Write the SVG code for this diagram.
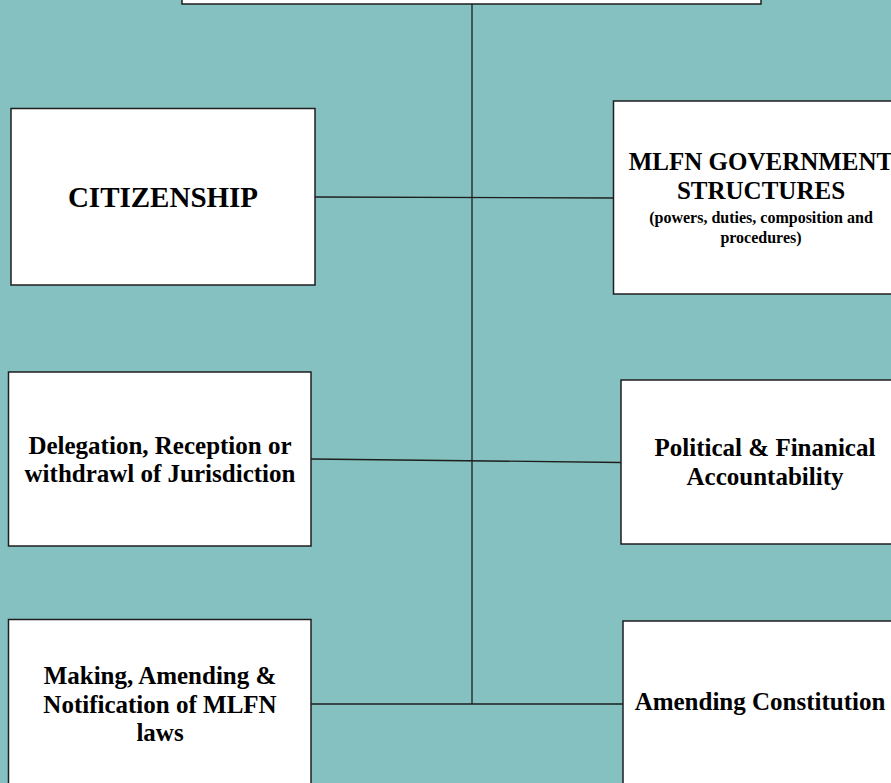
<svg xmlns="http://www.w3.org/2000/svg" width="891" height="783" viewBox="0 0 891 783">
  <style>
    .box { fill: #ffffff; stroke: #1e1e1e; stroke-width: 1.5; }
    .wire { stroke: #1e1e1e; stroke-width: 1.3; fill: none; }
    .t { font-family: "Liberation Serif", "Times New Roman", serif; font-weight: bold; fill: #000; text-anchor: middle; }
    .big { font-size: 29px; }
    .mid { font-size: 25px; }
    .small { font-size: 16px; }
  </style>
  <rect x="0" y="0" width="891" height="783" fill="#84c1c0"/>

  <g id="connectors">
    <line class="wire" x1="472" y1="4" x2="472" y2="704"/>
    <line class="wire" x1="315" y1="197" x2="613" y2="198"/>
    <line class="wire" x1="311" y1="459" x2="621" y2="462.5"/>
    <line class="wire" x1="311" y1="704" x2="623" y2="704"/>
  </g>

  <g id="root">
    <rect class="box" x="182" y="-20" width="579" height="24"/>
  </g>

  <g id="citizenship">
    <rect class="box" x="11" y="108.5" width="304" height="176.5"/>
    <text class="t big" x="163" y="207">CITIZENSHIP</text>
  </g>

  <g id="government">
    <rect class="box" x="613.5" y="101" width="300" height="193"/>
    <text class="t mid" x="761" y="170">MLFN GOVERNMENT</text>
    <text class="t mid" x="761" y="199">STRUCTURES</text>
    <text class="t small" x="761" y="223">(powers, duties, composition and</text>
    <text class="t small" x="761" y="243">procedures)</text>
  </g>

  <g id="jurisdiction">
    <rect class="box" x="8.5" y="372" width="302.5" height="174"/>
    <text class="t mid" x="160" y="454">Delegation, Reception or</text>
    <text class="t mid" x="160" y="482">withdrawl of Jurisdiction</text>
  </g>

  <g id="accountability">
    <rect class="box" x="621" y="380" width="290" height="164"/>
    <text class="t mid" x="765" y="456">Political &amp; Finanical</text>
    <text class="t mid" x="765" y="485">Accountability</text>
  </g>

  <g id="laws">
    <rect class="box" x="8.5" y="619.5" width="302.5" height="180"/>
    <text class="t mid" x="160" y="684">Making, Amending &amp;</text>
    <text class="t mid" x="160" y="713">Notification of MLFN</text>
    <text class="t mid" x="160" y="741">laws</text>
  </g>

  <g id="constitution">
    <rect class="box" x="623" y="621" width="290" height="180"/>
    <text class="t mid" x="760" y="710">Amending Constitution</text>
  </g>
</svg>
